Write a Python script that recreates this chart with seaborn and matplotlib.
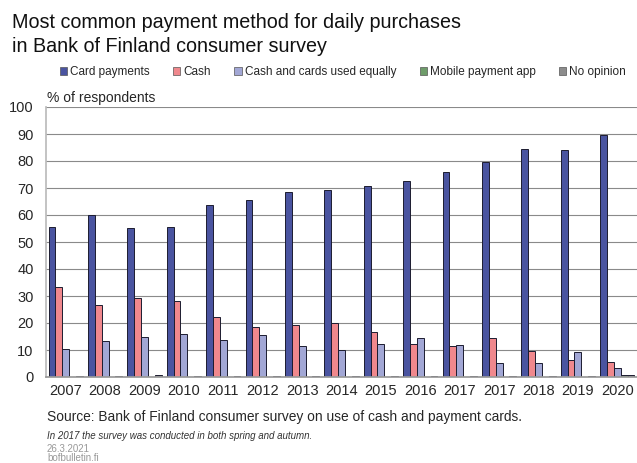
import matplotlib
matplotlib.use("Agg")
import matplotlib.pyplot as plt
import seaborn as sns
import pandas as pd
from matplotlib.patches import Patch

periods = ["2007", "2008", "2009", "2010", "2011", "2012", "2013", "2014",
           "2015", "2016", "2017a", "2017b", "2018", "2019", "2020"]
tick_labels = ["2007", "2008", "2009", "2010", "2011", "2012", "2013", "2014",
               "2015", "2016", "2017", "2017", "2018", "2019", "2020"]
series = ["Card payments", "Cash", "Cash and cards used equally",
          "Mobile payment app", "No opinion"]
card = [55.5, 60.0, 55.2, 55.5, 63.7, 65.6, 68.5, 69.4, 70.8, 72.7, 76.0, 79.6, 84.4, 83.9, 89.8]
cash = [33.3, 26.7, 29.3, 28.2, 22.2, 18.6, 19.3, 20.0, 16.7, 12.4, 11.6, 14.6, 9.8, 6.2, 5.4]
equal = [10.3, 13.4, 14.8, 16.0, 13.7, 15.6, 11.4, 10.1, 12.3, 14.5, 11.8, 5.3, 5.2, 9.2, 3.2]
mobile = [0, 0, 0, 0, 0, 0, 0, 0, 0, 0, 0, 0, 0, 0, 0.8]
no_opinion = [0.3, 0.2, 0.7, 0.3, 0.3, 0.3, 0.3, 0.3, 0.3, 0.3, 0.3, 0.3, 0.3, 0.3, 0.6]
colors = ["#4A54A0", "#F0888D", "#A2A7D5", "#6E9C6A", "#8C8C8C"]

rows = []
for name, vals in zip(series, [card, cash, equal, mobile, no_opinion]):
    for p, v in zip(periods, vals):
        rows.append({"period": p, "series": name, "value": v})
df = pd.DataFrame(rows)

sns.set_theme(style="white")
plt.rcParams["font.family"] = ["Liberation Sans", "DejaVu Sans"]

fig = plt.figure(figsize=(6.37, 4.63), dpi=100)
ax = fig.add_axes([46 / 637, 86 / 463, 591 / 637, 270 / 463])

sns.barplot(data=df, x="period", y="value", hue="series", order=periods,
            hue_order=series, palette=colors, width=0.87, ax=ax,
            edgecolor="#1c1c30", linewidth=0.7, legend=False, saturation=1)

ax.set_ylim(0, 100)
ax.set_xlim(-0.5, len(periods) - 0.5)
ax.set_yticks(range(0, 101, 10))
ax.set_xticks(range(len(periods)))
ax.set_xticklabels(tick_labels, fontsize=10.5)
ax.tick_params(axis="y", labelsize=10.5, pad=9, length=0)
ax.tick_params(axis="x", pad=5, length=0)
ax.set_xlabel("")
ax.set_ylabel("")
ax.yaxis.grid(True, color="#8a8a8a", linewidth=0.8)
ax.set_axisbelow(True)
for s in ["top", "right"]:
    ax.spines[s].set_visible(False)
ax.spines["left"].set_color("#bbbbbb")
ax.spines["bottom"].set_color("#999999")

fig.text(12 / 637, 1 - 23 / 463, "Most common payment method for daily purchases",
         fontsize=14.2, va="center", ha="left", color="#111111")
fig.text(12 / 637, 1 - 47 / 463, "in Bank of Finland consumer survey",
         fontsize=14.2, va="center", ha="left", color="#111111")

handles = [Patch(facecolor=c, edgecolor="#555555", linewidth=0.5) for c in colors]
fig.legend(handles, series, loc="center", bbox_to_anchor=(343 / 637, 1 - 72 / 463),
           ncol=5, frameon=False, fontsize=8.5, handlelength=0.6, handleheight=0.6,
           handletextpad=0.25, columnspacing=2.0)

fig.text(47 / 637, 1 - 98 / 463, "% of respondents", fontsize=10, va="center", ha="left")
fig.text(47 / 637, 1 - 417 / 463,
         "Source: Bank of Finland consumer survey on use of cash and payment cards.",
         fontsize=9.9, va="center", ha="left")
fig.text(47 / 637, 1 - 436 / 463, "In 2017 the survey was conducted in both spring and autumn.",
         fontsize=7, style="italic", va="center", ha="left", color="#333333")
fig.text(47 / 637, 1 - 449 / 463, "26.3.2021", fontsize=7, va="center", ha="left", color="#999999")
fig.text(47 / 637, 1 - 458 / 463, "bofbulletin.fi", fontsize=7, va="center", ha="left", color="#999999")

fig.savefig("out.png", dpi=100)
